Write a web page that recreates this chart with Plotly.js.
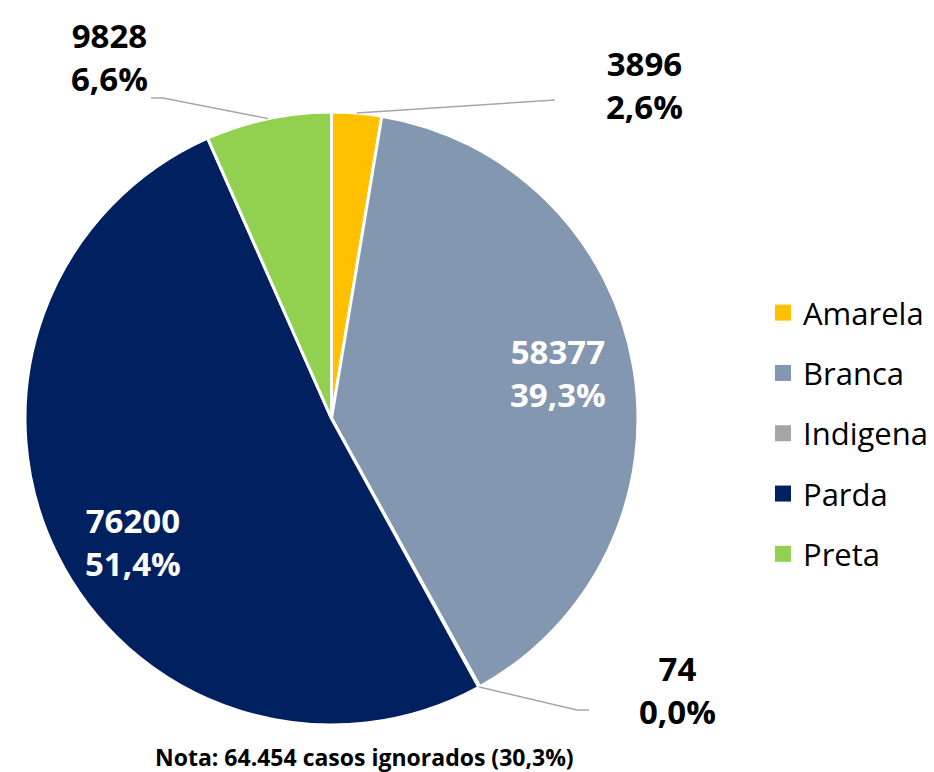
<!DOCTYPE html>
<html>
<head>
<meta charset="utf-8">
<script src="https://cdn.plot.ly/plotly-3.0.1.min.js"></script>
<style>html,body{margin:0;padding:0;background:#fff;}#chart{width:934px;height:772px;}</style>
</head>
<body>
<div id="chart"></div>
<script>
// ---- data ----
const labels = ['Amarela', 'Branca', 'Indigena', 'Parda', 'Preta'];
const values = [3896, 58377, 74, 76200, 9828];
const colors = ['#FFC000', '#8497B0', '#A5A5A5', '#002060', '#92D050'];
const noteText = 'Nota: 64.454 casos ignorados (30,3%)';

// ---- layout helpers ----
const W = 934, H = 772;
const fx = x => x / W;
const fy = y => 1 - y / H;
const CX = 331.5, CY = 418.5, R = 306.5;

// label placement (pixels) per slice, and leader-line bends for outside labels
const labelPlace = {
  Amarela:  {x: 644, y: 85,  color: '#000', leader: [[555, 100]]},
  Branca:   {x: 558, y: 373, color: '#fff'},
  Indigena: {x: 677, y: 690, color: '#000', leader: [[577, 710], [589, 710]]},
  Parda:    {x: 133, y: 542, color: '#fff'},
  Preta:    {x: 109, y: 57,  color: '#000', leader: [[163, 98], [151, 98]]}
};

const total = values.reduce((a, b) => a + b, 0);
const annotations = [];
const shapes = [];
let cum = 0;
labels.forEach((lab, i) => {
  const frac = values[i] / total;
  const mid = (cum + frac / 2) * 2 * Math.PI; // clockwise from 12 o'clock
  cum += frac;
  const pct = (frac * 100).toFixed(1).replace('.', ',') + '%';
  const p = labelPlace[lab];
  annotations.push({
    xref: 'paper', yref: 'paper', x: fx(p.x), y: fy(p.y),
    xanchor: 'center', yanchor: 'middle', showarrow: false,
    text: '<b>' + values[i] + '<br>' + pct + '</b>',
    font: {family: 'Open Sans', size: 33, color: p.color}
  });
  if (p.leader) {
    const sx = CX + R * Math.sin(mid), sy = CY - R * Math.cos(mid);
    let path = 'M ' + fx(sx) + ',' + fy(sy);
    p.leader.forEach(pt => { path += ' L ' + fx(pt[0]) + ',' + fy(pt[1]); });
    shapes.push({type: 'path', xref: 'paper', yref: 'paper', path: path,
      line: {color: '#A6A6A6', width: 1.5}});
  }
});

annotations.push({
  xref: 'paper', yref: 'paper', x: fx(364), y: fy(757),
  xanchor: 'center', yanchor: 'middle', showarrow: false,
  text: '<b>' + noteText + '</b>',
  font: {family: 'Open Sans', size: 23, color: '#000'}
});

const traces = [{
  type: 'pie', labels: labels, values: values, sort: false,
  direction: 'clockwise', rotation: 0, textinfo: 'none',
  marker: {colors: colors, line: {color: '#fff', width: 3}},
  domain: {x: [fx(25), fx(638)], y: [fy(725), fy(112)]},
  showlegend: false, hoverinfo: 'label+value+percent'
}];
// legend entries (one per category)
labels.forEach((lab, i) => {
  traces.push({
    type: 'scatter', mode: 'markers', x: [null], y: [null], name: lab,
    legendgroup: lab, showlegend: true,
    marker: {symbol: 'square', size: 16, color: colors[i], line: {width: 0}},
    hoverinfo: 'skip'
  });
});

const layout = {
  width: W, height: H,
  margin: {l: 0, r: 0, t: 0, b: 0},
  paper_bgcolor: '#fff', plot_bgcolor: '#fff',
  xaxis: {visible: false}, yaxis: {visible: false},
  showlegend: true,
  legend: {
    x: fx(763), y: fy(286), xanchor: 'left', yanchor: 'top',
    font: {family: 'Open Sans', size: 31, color: '#000'},
    tracegroupgap: 17, traceorder: 'grouped', itemsizing: 'trace',
    bgcolor: 'rgba(0,0,0,0)', borderwidth: 0
  },
  annotations: annotations,
  shapes: shapes
};

Plotly.newPlot('chart', traces, layout, {displayModeBar: false, staticPlot: true});
</script>
</body>
</html>
